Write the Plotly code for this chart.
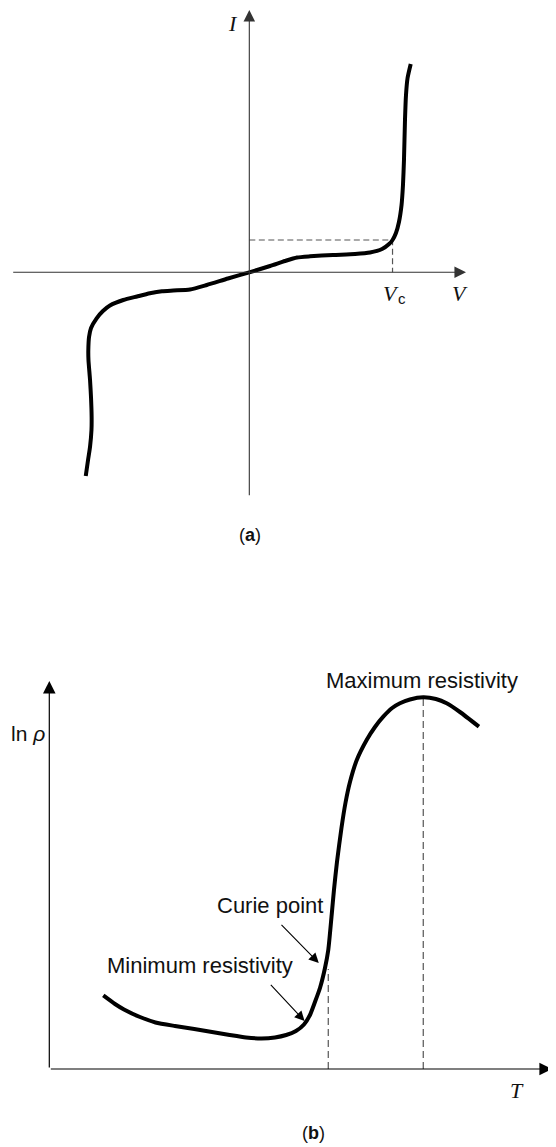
import plotly.graph_objects as go

# ---------------- Panel (a): varistor I-V characteristic ----------------
# V in units of the clamp voltage Vc, I in units of the current at Vc
V_a = [-1.142, -1.126, -1.112, -1.102, -1.101, -1.105, -1.112, -1.123, -1.124, -1.119,
       -1.105, -1.066, -1.022, -0.973, -0.880, -0.784, -0.694, -0.610, -0.531, -0.414,
       -0.297, -0.149, 0.0,
       0.145, 0.249, 0.333, 0.424, 0.584, 0.738, 0.843, 0.927, 0.976, 1.0,
       1.024, 1.045, 1.063, 1.073, 1.080, 1.087, 1.094, 1.105, 1.127]
I_a = [-6.307, -5.811, -5.399, -4.882, -4.471, -3.892, -3.334, -2.715, -2.406, -2.003,
       -1.724, -1.424, -1.198, -1.028, -0.858, -0.749, -0.650, -0.585, -0.563, -0.533,
       -0.393, -0.192, 0.0,
       0.195, 0.350, 0.458, 0.495, 0.536, 0.567, 0.613, 0.721, 0.876, 1.0,
       1.217, 1.557, 2.083, 2.703, 3.477, 4.715, 5.489, 6.015, 6.449]
VC = 1.0          # clamp voltage
IC = 1.0          # current at clamp voltage
V_RANGE = [-1.659, 1.513]
I_RANGE = [-6.947, 8.121]

# ---------------- Panel (b): PTC thermistor ln(rho) vs T ----------------
T_b = [19.35, 23.55, 26.77, 32.51, 38.06, 45.05, 51.97, 58.32, 64.66, 70.50,
       76.06, 80.90, 84.91, 88.42, 91.29, 93.44, 95.23, 97.03, 98.82, 100.0,
       101.22, 102.04, 103.12, 104.73, 106.16, 107.78, 110.22, 113.76, 116.74, 119.71,
       122.90, 125.70, 129.28, 134.05, 138.60, 142.44, 147.20, 154.01]
LNR_b = [1.838, 1.625, 1.488, 1.300, 1.163, 1.075, 1.000, 0.925, 0.850, 0.788,
         0.763, 0.788, 0.850, 0.950, 1.113, 1.350, 1.675, 2.025, 2.525, 2.975,
         3.850, 4.475, 5.175, 6.025, 6.650, 7.175, 7.725, 8.225, 8.550, 8.808,
         9.025, 9.143, 9.238, 9.293, 9.250, 9.143, 8.925, 8.558]
T_CURIE = 100.0
LNR_CURIE_MARK = 2.5
CURIE_ARROW = {"tip": (96.6, 2.65), "tail": (82.7, 3.64)}
MIN_ARROW = {"tip": (91.5, 1.20), "tail": (78.9, 2.14)}
T_RANGE = [0.0, 180.2]
LNR_RANGE = [0.0, 9.70]

# page is 556x1147; the html body has an 8px margin, so the figure is slightly smaller
PAGE_W, PAGE_H = 556, 1147
BODY_MARGIN = 8
W, H = PAGE_W - BODY_MARGIN, PAGE_H - BODY_MARGIN


def px_x(p):
    return (p - BODY_MARGIN) / W


def px_y(p):
    return 1 - (p - BODY_MARGIN) / H


fig = go.Figure()

# panel (a) traces
fig.add_trace(go.Scatter(x=[0, VC, VC], y=[IC, IC, 0], mode="lines",
                         line=dict(color="#555555", width=1.2, dash="6px,3.5px"),
                         xaxis="x", yaxis="y", hoverinfo="skip", showlegend=False))
fig.add_trace(go.Scatter(x=V_a, y=I_a, mode="lines",
                         line=dict(color="#000000", width=4, shape="spline", smoothing=0.6),
                         xaxis="x", yaxis="y", hoverinfo="skip", showlegend=False))

# panel (b) traces
i_peak = max(range(len(LNR_b)), key=lambda i: LNR_b[i])
fig.add_trace(go.Scatter(x=[T_CURIE, T_CURIE], y=[0, LNR_CURIE_MARK], mode="lines",
                         line=dict(color="#555555", width=1.2, dash="7px,4px"),
                         xaxis="x2", yaxis="y2", hoverinfo="skip", showlegend=False))
fig.add_trace(go.Scatter(x=[T_b[i_peak], T_b[i_peak]], y=[0, LNR_b[i_peak]], mode="lines",
                         line=dict(color="#555555", width=1.2, dash="7px,4px"),
                         xaxis="x2", yaxis="y2", hoverinfo="skip", showlegend=False))
fig.add_trace(go.Scatter(x=T_b, y=LNR_b, mode="lines",
                         line=dict(color="#000000", width=4, shape="spline", smoothing=0.6),
                         xaxis="x2", yaxis="y2", hoverinfo="skip", showlegend=False))

ann = []


def axis_arrow(xref, yref, tail, tip, color, width):
    ann.append(dict(xref=xref, yref=yref, axref=xref, ayref=yref,
                    x=tip[0], y=tip[1], ax=tail[0], ay=tail[1], text="",
                    showarrow=True, arrowhead=2, arrowsize=2.1, arrowwidth=width,
                    arrowcolor=color))


# axes of panel (a)
axis_arrow("x", "y", (V_RANGE[0], 0), (V_RANGE[1], 0), "#333333", 1.1)
axis_arrow("x", "y", (0, I_RANGE[0]), (0, I_RANGE[1]), "#333333", 1.1)
# axes of panel (b)
axis_arrow("x2", "y2", (T_RANGE[0], 0), (T_RANGE[1], 0), "#000000", 1.2)
axis_arrow("x2", "y2", (0, 0), (0, LNR_RANGE[1]), "#000000", 1.2)

# pointer arrows in panel (b)
for a in (CURIE_ARROW, MIN_ARROW):
    ann.append(dict(xref="x2", yref="y2", axref="x2", ayref="y2",
                    x=a["tip"][0], y=a["tip"][1], ax=a["tail"][0], ay=a["tail"][1],
                    text="", showarrow=True, arrowhead=2, arrowsize=1.8, arrowwidth=1.1,
                    arrowcolor="#000000"))

serif = "Liberation Serif, Times New Roman, serif"
sans = "Liberation Sans, Arial, Helvetica, sans-serif"


def label(text, x, y, family, size, xanchor="center", yanchor="middle", color="#111111"):
    ann.append(dict(xref="paper", yref="paper", x=px_x(x), y=px_y(y), text=text,
                    showarrow=False, xanchor=xanchor, yanchor=yanchor,
                    font=dict(family=family, size=size, color=color)))


# panel (a) labels
label("<i>I</i>", 233, 24, serif, 22)
label("<i>V</i>", 460, 293, serif, 22)
label("<i>V</i>", 391, 293, serif, 22)
label("c", 401.5, 299, sans, 15)
label("(<b>a</b>)", 250, 535, sans, 18)

# panel (b) labels
label("ln <i>ρ</i>", 9, 733, sans, 21, xanchor="left")
label("<i>T</i>", 517, 1090, serif, 22)
label("(<b>b</b>)", 313, 1133, sans, 18)
label("Maximum resistivity", 422, 680, sans, 22)
label("Curie point", 325, 905, sans, 22, xanchor="right")
label("Minimum resistivity", 105, 965, sans, 22, xanchor="left")

hidden = dict(visible=False, showgrid=False, zeroline=False, fixedrange=True)

fig.update_layout(
    width=W, height=H,
    margin=dict(l=0, r=0, t=0, b=0),
    paper_bgcolor="white", plot_bgcolor="white",
    showlegend=False,
    xaxis=dict(domain=[px_x(11.7), px_x(466)], range=V_RANGE, **hidden),
    yaxis=dict(domain=[px_y(496.7), px_y(10)], range=I_RANGE, **hidden),
    xaxis2=dict(domain=[px_x(49.3), px_x(552)], range=T_RANGE, anchor="y2", **hidden),
    yaxis2=dict(domain=[px_y(1069), px_y(681)], range=LNR_RANGE, anchor="x2", **hidden),
    annotations=ann,
)

fig.write_html("out.html")
